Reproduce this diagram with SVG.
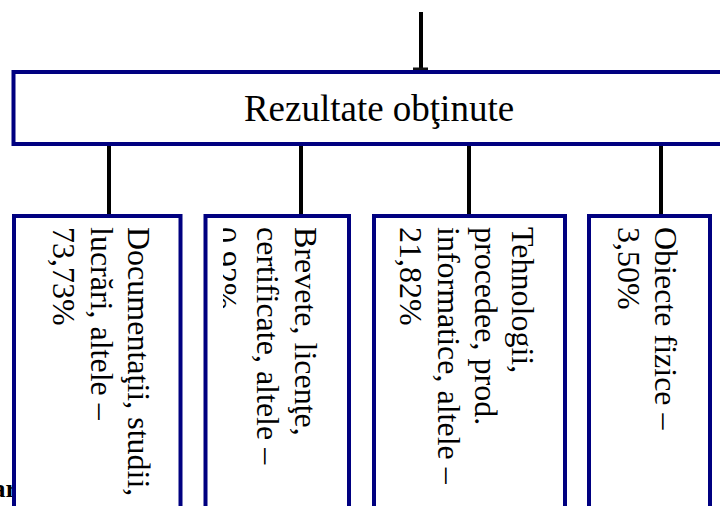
<svg xmlns="http://www.w3.org/2000/svg" width="720" height="506" viewBox="0 0 720 506">
<style>
.box{fill:#ffffff;stroke:#000080;stroke-width:4}
.conn{stroke:#000000;stroke-width:4;fill:none}
.t{font-family:"Liberation Serif","Times New Roman",serif;font-size:32px;fill:#000000}
.h{font-family:"Liberation Serif","Times New Roman",serif;font-size:37px;fill:#000000}
.b{font-family:"Liberation Serif","Times New Roman",serif;font-size:26px;font-weight:bold;fill:#000000}
</style>
<defs>
<clipPath id="clip2"><rect x="223" y="200" width="130" height="306"/></clipPath>
</defs>
<rect x="0" y="0" width="720" height="506" fill="#ffffff"/>
<text class="b" x="17" y="497" text-anchor="end">ar</text>
<g id="connectors">
<line class="conn" x1="421" y1="12" x2="421" y2="70" stroke-width="3.5"/>
<rect x="413" y="67.5" width="15" height="3" fill="#111111"/>
<line class="conn" x1="109" y1="146" x2="109" y2="214"/>
<line class="conn" x1="301" y1="146" x2="301" y2="214"/>
<line class="conn" x1="469" y1="146" x2="469" y2="214"/>
<line class="conn" x1="661" y1="146" x2="661" y2="214"/>
</g>
<g id="root">
<rect class="box" x="13.5" y="72" width="720" height="72"/>
<text class="h" x="379" y="121" text-anchor="middle">Rezultate obţinute</text>
</g>
<g id="n1">
<rect class="box" x="14" y="216" width="166.5" height="400"/>
<text class="t" transform="translate(128,227) rotate(90)">Documentaţii, studii,</text>
<text class="t" transform="translate(90.5,227) rotate(90)">lucrări, altele –</text>
<text class="t" transform="translate(53,227) rotate(90)">73,73%</text>
</g>
<g id="n2">
<rect class="box" x="205.5" y="216" width="143.5" height="400"/>
<text class="t" transform="translate(295,227) rotate(90)">Brevete, licenţe,</text>
<text class="t" transform="translate(257,227) rotate(90)">certificate, altele –</text>
<g clip-path="url(#clip2)">
<text class="t" transform="translate(215,227) rotate(90)">0,92%</text>
</g>
</g>
<g id="n3">
<rect class="box" x="374" y="216" width="191" height="400"/>
<text class="t" transform="translate(512,227) rotate(90)">Tehnologii,</text>
<text class="t" transform="translate(475,227) rotate(90)">procedee, prod.</text>
<text class="t" transform="translate(437.5,227) rotate(90)">informatice, altele –</text>
<text class="t" transform="translate(400,227) rotate(90)">21,82%</text>
</g>
<g id="n4">
<rect class="box" x="589" y="216" width="121" height="400"/>
<text class="t" transform="translate(655,227) rotate(90)">Obiecte fizice –</text>
<text class="t" transform="translate(618,227) rotate(90)">3,50%</text>
</g>
</svg>
